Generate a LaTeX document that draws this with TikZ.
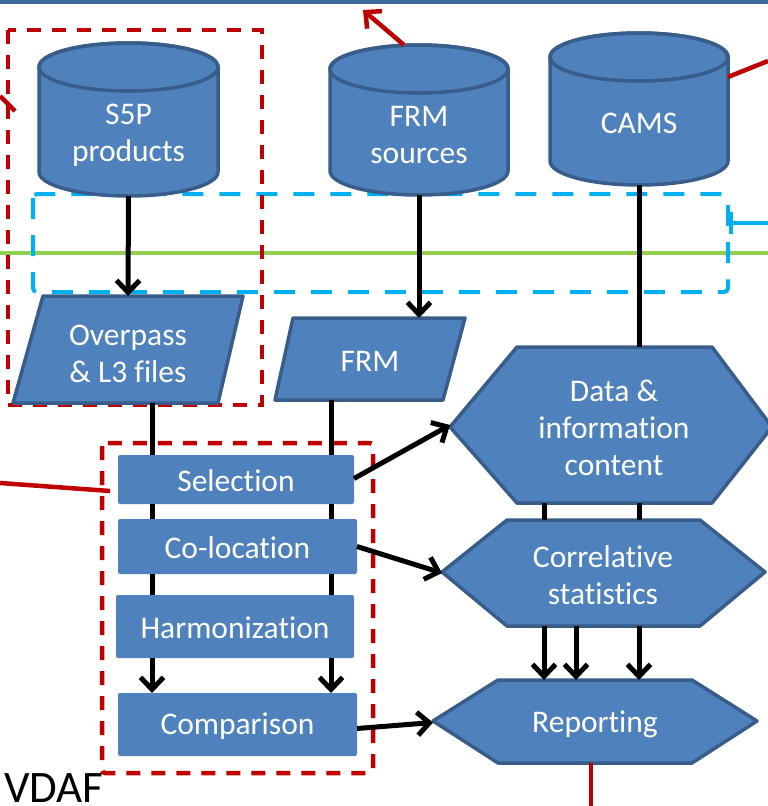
\documentclass[tikz,border=0pt]{standalone}
\usepackage{fontspec}
\setmainfont{Carlito}[Ligatures=NoCommon]
\usetikzlibrary{arrows.meta}

\definecolor{boxfill}{HTML}{4F81BD}
\definecolor{boxline}{HTML}{385D8A}
\definecolor{linered}{HTML}{C00000}
\definecolor{skyblue}{HTML}{00B0F0}
\definecolor{limegreen}{HTML}{92D050}
\definecolor{topbar}{HTML}{3C6A9E}

\tikzset{
  shapepaint/.style={fill=boxfill, draw=boxline, line width=3.5pt, line join=round},
  shapebox/.style={draw=none, inner sep=0pt, outer sep=0pt},
  lbl/.style={text=white, font=\fontsize{31.5}{37}\selectfont, align=center, inner sep=0pt},
  conn/.style={line width=5pt, draw=black},
  arr/.style={conn, -{Straight Barb[length=12pt, width=23pt]}},
  redline/.style={line width=4.5pt, draw=linered},
  reddash/.style={line width=4.5pt, draw=linered, dash pattern=on 14pt off 11pt},
  bluedash/.style={line width=4pt, draw=skyblue, dash pattern=on 21pt off 16pt, rounded corners=4pt},
}

\begin{document}
\begin{tikzpicture}[x=1pt, y=-1pt]
\useasboundingbox (0,0) rectangle (768,806);

% top rule and green boundary line
\fill[topbar] (0,0) rectangle (768,4);
\draw[line width=4.5pt, limegreen] (0,253) -- (768,253);

% dashed group frames
\draw[bluedash] (33,194) rectangle (728,292);
\draw[reddash] (8,30) rectangle (262,405);
\draw[reddash, rounded corners=3pt] (102,443) rectangle (373,773);

% ---- data stores (cylinders) ----
% S5P products
\path[shapepaint] (39,67) -- (39,172) arc[start angle=180, end angle=0, x radius=89.5, y radius=24]
  -- (218,67) arc[start angle=0, end angle=-180, x radius=89.5, y radius=24] -- cycle;
\draw[boxline, line width=3.5pt] (128.5,67) ellipse[x radius=89.5, y radius=24];
\node[shapebox, minimum width=179pt, minimum height=153pt] (s5p) at (128.5,119.5) {};
\node[lbl] (s5p-text) at (128.5,135) {S5P\\products};

% FRM sources
\path[shapepaint] (330,69) -- (330,171) arc[start angle=180, end angle=0, x radius=89, y radius=24]
  -- (508,69) arc[start angle=0, end angle=-180, x radius=89, y radius=24] -- cycle;
\draw[boxline, line width=3.5pt] (419,69) ellipse[x radius=89, y radius=24];
\node[shapebox, minimum width=178pt, minimum height=150pt] (frmsrc) at (419,120) {};
\node[lbl] (frmsrc-text) at (419,135) {FRM\\sources};

% CAMS
\path[shapepaint] (550,57) -- (550,161) arc[start angle=180, end angle=0, x radius=89, y radius=24]
  -- (728,57) arc[start angle=0, end angle=-180, x radius=89, y radius=24] -- cycle;
\draw[boxline, line width=3.5pt] (639,57) ellipse[x radius=89, y radius=24];
\node[shapebox, minimum width=178pt, minimum height=152pt] (cams) at (639,109) {};
\node[lbl] (cams-text) at (639,123) {CAMS};

% ---- input files (parallelograms) ----
\path[shapepaint] (43,296) -- (243,296) -- (218,403) -- (13,403) -- cycle;
\node[shapebox, minimum width=230pt, minimum height=107pt] (overpass) at (128,349.5) {};
\node[lbl] (overpass-text) at (128,354) {Overpass\\\& L3 files};

\path[shapepaint] (293,318) -- (465,318) -- (443,400) -- (275,400) -- cycle;
\node[shapebox, minimum width=190pt, minimum height=82pt] (frm) at (370,359) {};
\node[lbl] (frm-text) at (370,361) {FRM};

% ---- processing steps ----
\node[shapepaint, shapebox, rounded corners=2pt, minimum width=236pt, minimum height=49pt] (sel) at (236,479.5) {};
\node[lbl] (sel-text) at (236,481) {Selection};
\node[shapepaint, shapebox, rounded corners=2pt, minimum width=239pt, minimum height=55pt] (coloc) at (237.5,546.5) {};
\node[lbl] (coloc-text) at (237.5,548) {Co-location};
\node[shapepaint, shapebox, rounded corners=2pt, minimum width=238pt, minimum height=63pt] (harm) at (235,626.5) {};
\node[lbl] (harm-text) at (235,628) {Harmonization};
\node[shapepaint, shapebox, rounded corners=2pt, minimum width=239pt, minimum height=63pt] (comp) at (237.5,724.5) {};
\node[lbl] (comp-text) at (237.5,726) {Comparison};

% ---- outputs (hexagons) ----
\path[shapepaint] (450,427) -- (517,347) -- (712,347) -- (772,427) -- (712,503) -- (517,503) -- cycle;
\node[shapebox, minimum width=322pt, minimum height=156pt] (info) at (611,425) {};
\node[lbl] (info-text) at (614,428) {Data \&\\information\\content};

\path[shapepaint] (442,572) -- (507,520) -- (700,520) -- (765,572) -- (700,626) -- (507,626) -- cycle;
\node[shapebox, minimum width=323pt, minimum height=106pt] (corr) at (603.5,573) {};
\node[lbl] (corr-text) at (603,575) {Correlative\\statistics};

\path[shapepaint] (433,721) -- (498,680) -- (692,680) -- (757,721) -- (692,763) -- (498,763) -- cycle;
\node[shapebox, minimum width=324pt, minimum height=83pt] (rep) at (595,721.5) {};
\node[lbl] (rep-text) at (595,724) {Reporting};

% ---- connectors ----
\coordinate (xs5p) at (152,0);
\coordinate (xfrm) at (331,0);
\coordinate (xa) at (544,0);
\coordinate (xb) at (576,0);

\draw[arr] (s5p.south) -- (overpass.north);
\draw[arr] (frmsrc.south) -- (frmsrc.south |- frm.north);
\draw[conn] (cams.south) -- (cams.south |- info.north);

\draw[conn] (xs5p |- overpass.south) -- (xs5p |- sel.north);
\draw[conn] (xs5p |- sel.south) -- (xs5p |- coloc.north);
\draw[conn] (xs5p |- coloc.south) -- (xs5p |- harm.north);
\draw[arr] (xs5p |- harm.south) -- (xs5p |- comp.north);

\draw[conn] (xfrm |- frm.south) -- (xfrm |- sel.north);
\draw[conn] (xfrm |- sel.south) -- (xfrm |- coloc.north);
\draw[conn] (xfrm |- coloc.south) -- (xfrm |- harm.north);
\draw[arr] (xfrm |- harm.south) -- (xfrm |- comp.north);

\draw[arr] ([yshift=1pt]sel.east) -- (info.west);
\draw[arr] (coloc.east) -- (corr.west);
\draw[arr] ([yshift=-4pt]comp.east) -- ([yshift=-1pt]rep.west);

\draw[conn] (xa |- info.south) -- (xa |- corr.north);
\draw[conn] (cams.south |- info.south) -- (cams.south |- corr.north);
\draw[arr] (xa |- corr.south) -- (xa |- rep.north);
\draw[arr] (xb |- corr.south) -- (xb |- rep.north);
\draw[arr] (cams.south |- corr.south) -- (cams.south |- rep.north);

% ---- links leaving the picture ----
\coordinate (uptip) at (363,10);
\coordinate (leftend) at (0,96);
\coordinate (leftcut) at (15,111);
\coordinate (rightend) at (768,61);
\coordinate (midleft) at (0,483);
\coordinate (midcut) at (110,491);
\coordinate (bottomend) at (591,806);
\coordinate (blueend) at (768,223);
\coordinate (bluecut) at (729,223);

\draw[redline, -{Straight Barb[length=12pt, width=23pt]}] (frmsrc.north) ++(-15,0) -- (uptip);
\draw[redline] (leftend) -- (leftcut);
\draw[redline] (cams.east |- 0,77) -- (rightend);
\draw[redline] (midleft) -- (midcut);
\draw[redline] (rep.south) ++(-4,0) -- (bottomend);
\draw[line width=4pt, skyblue, -{Bar[width=22pt]}] (blueend) -- (bluecut);

% framework label
\node[anchor=base west, inner sep=0pt, font=\fontsize{45}{50}\selectfont] (vdaf) at (4,802) {VDAF};
\end{tikzpicture}
\end{document}
